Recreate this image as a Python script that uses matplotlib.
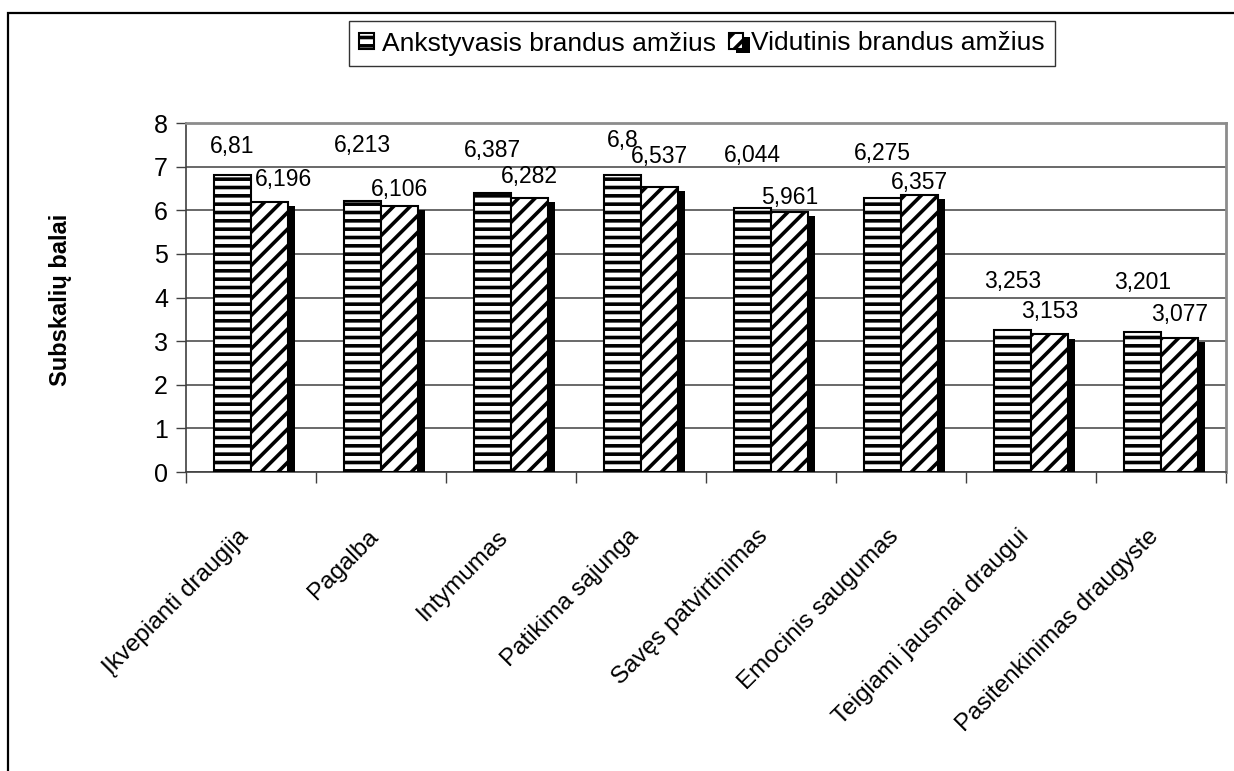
import numpy as np
import matplotlib
matplotlib.use('Agg')
from matplotlib import pyplot as plt
from matplotlib import patheffects as pe
from matplotlib.patches import Rectangle
from matplotlib.transforms import ScaledTranslation

categories = ['Įkvepianti draugija', 'Pagalba', 'Intymumas', 'Patikima sąjunga',
              'Savęs patvirtinimas', 'Emocinis saugumas', 'Teigiami jausmai draugui',
              'Pasitenkinimas draugyste']
early = [6.81, 6.213, 6.387, 6.8, 6.044, 6.275, 3.253, 3.201]
middle = [6.196, 6.106, 6.282, 6.537, 5.961, 6.357, 3.153, 3.077]
series_names = ['Ankstyvasis brandus amžius', 'Vidutinis brandus amžius']

# label offsets (points) - labels were nudged by hand in the original
early_dy = [16, 35, 26, 20.5, 33.5, 27.5, 30, 31.5]
middle_dy = [11, 7, 11, 17, 6, 4, 12, 12]
middle_dx = [10, 0, 0, 0, 0, 0, 0, 0]

plt.rcParams['font.family'] = ['Liberation Sans', 'DejaVu Sans']
plt.rcParams['hatch.linewidth'] = 2.6

fig = plt.figure(figsize=(12.34, 7.71), dpi=100)
ax = fig.add_axes([186/1234, 1-472/771, 1040/1234, 349/771])

# outer chart frame (only top/left visible in the crop)
fig.add_artist(Rectangle((8/1234, -0.2), 1.5, 1.2 - 13/771, transform=fig.transFigure,
                         fill=False, edgecolor='black', linewidth=1.6))

x = np.arange(len(categories))
w = 0.285
b1 = ax.bar(x - w/2, early, w, facecolor='white', edgecolor='black', hatch='--',
            linewidth=1.5, label=series_names[0], zorder=3)
b2 = ax.bar(x + w/2, middle, w, facecolor='white', edgecolor='black', hatch='//',
            linewidth=1.5, label=series_names[1], zorder=3)
for p in b2:
    p.set_path_effects([pe.SimplePatchShadow(offset=(5, -3), shadow_rgbFace='black', alpha=1.0),
                        pe.Normal()])

for i, v in enumerate(early):
    ax.annotate(str(v).replace('.', ','), (x[i] - w/2, v), xytext=(0, early_dy[i]),
                textcoords='offset points', ha='center', va='baseline', fontsize=16.5, zorder=5)
for i, v in enumerate(middle):
    ax.annotate(str(v).replace('.', ','), (x[i] + w/2, v), xytext=(middle_dx[i], middle_dy[i]),
                textcoords='offset points', ha='center', va='baseline', fontsize=16.5, zorder=5)

ax.set_xlim(-0.5, len(categories) - 0.5)
ax.set_ylim(0, 8)
ax.set_yticks(range(0, 9))
ax.tick_params(axis='y', labelsize=18, length=7, width=1, pad=6, color='#404040')
ax.yaxis.grid(True, color='#404040', linewidth=1.1, zorder=0)
ax.set_axisbelow(True)

ax.set_xticks(x)
ax.set_xticks(np.arange(len(categories) + 1) - 0.5, minor=True)
ax.tick_params(axis='x', which='major', length=0, pad=44)
ax.tick_params(axis='x', which='minor', length=8, width=1, color='#404040')
ax.set_xticklabels(categories, rotation=45, ha='right', va='center',
                   rotation_mode='anchor', fontsize=17.5)
shift = ScaledTranslation(-6/100, 0, fig.dpi_scale_trans)
for lab in ax.get_xticklabels():
    lab.set_transform(lab.get_transform() + shift)

for side in ['top', 'right']:
    ax.spines[side].set_color('#8c8c8c')
    ax.spines[side].set_linewidth(2)
ax.spines['left'].set_color('#404040')
ax.spines['bottom'].set_color('#404040')
ax.spines['left'].set_linewidth(1.2)
ax.spines['bottom'].set_linewidth(1.2)

fig.text(60/1234, 1-300/771, 'Subskalių balai', rotation=90, fontsize=17,
         fontweight='bold', ha='center', va='center')

leg = fig.legend(loc='center', bbox_to_anchor=(702/1234, 1-43.5/771), ncol=2,
                 fontsize=19, frameon=True, fancybox=False, edgecolor='black',
                 handlelength=0.55, handleheight=0.55, handletextpad=0.3,
                 columnspacing=0.5, borderpad=0.4, borderaxespad=0)
leg.get_frame().set_linewidth(1.0)

plt.savefig('out.png', dpi=100)
plt.close()
